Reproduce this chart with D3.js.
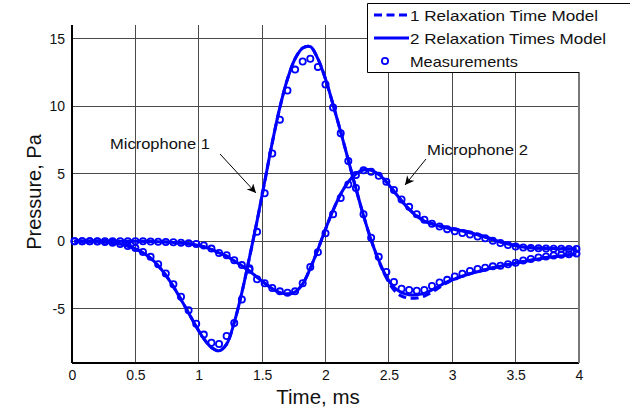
<!DOCTYPE html>
<html>
<head>
<meta charset="utf-8">
<script src="https://cdn.jsdelivr.net/npm/d3@7"></script>
<style>
  body { margin: 0; background: #fff; }
  svg { display: block; }
  text { font-family: "Liberation Sans", Arial, sans-serif; fill: #111; }
</style>
</head>
<body>
<svg id="chart" width="630" height="409"></svg>
<script>
// Sampling of the records (ms): first sample and spacing
const sampleStart = 0.02;
const sampleStep = 0.06;

// Microphone 1 pressure (Pa)
const mic1Measured = [
  0, 0, 0, -0.02, -0.05, -0.1, -0.2, -0.35, -0.5, -0.79,
  -1.15, -1.69, -2.38, -3.18, -4.1, -5.1, -6.1, -6.9, -7.5, -7.6,
  -7.0, -6.05, -4.3, -2.0, 0.7, 3.55, 6.5, 9.0, 11.15, 12.7,
  13.3, 13.5, 12.9, 11.6, 9.9, 8.0, 5.95, 3.95, 2.0, 0.27,
  -1.15, -2.26, -3.0, -3.5, -3.6, -3.65, -3.6, -3.3, -3.05, -2.85,
  -2.6, -2.4, -2.2, -2.05, -1.95, -1.85, -1.8, -1.7, -1.58, -1.42,
  -1.3, -1.2, -1.12, -1.05, -1.0, -0.95, -0.9
];
const mic1Model2 = [
  0, 0, 0, 0, -0.05, -0.1, -0.2, -0.35, -0.55, -0.85,
  -1.25, -1.8, -2.5, -3.35, -4.3, -5.3, -6.3, -7.2, -7.85, -8.1,
  -7.6, -6.0, -3.8, -1.2, 1.5, 4.4, 7.3, 9.9, 12.0, 13.5,
  14.3, 14.4, 13.5, 12.0, 10.1, 8.1, 6.0, 3.9, 1.9, 0.1,
  -1.4, -2.6, -3.4, -3.8, -3.95, -3.95, -3.85, -3.6, -3.3, -3.0,
  -2.78, -2.58, -2.4, -2.25, -2.1, -1.95, -1.85, -1.72, -1.6, -1.5,
  -1.4, -1.3, -1.2, -1.14, -1.08, -1.0, -0.95
];
const mic1Model1 = [
  0, 0, 0, 0, -0.05, -0.1, -0.2, -0.35, -0.55, -0.85,
  -1.25, -1.8, -2.5, -3.35, -4.3, -5.3, -6.3, -7.2, -7.85, -8.1,
  -7.6, -6.0, -3.8, -1.2, 1.5, 4.4, 7.3, 9.9, 12.0, 13.5,
  14.3, 14.4, 13.5, 12.0, 10.1, 8.1, 6.0, 3.9, 1.9, 0.1,
  -1.45, -2.7, -3.6, -4.05, -4.2, -4.2, -4.05, -3.75, -3.4, -3.05,
  -2.8, -2.58, -2.4, -2.25, -2.1, -1.95, -1.85, -1.72, -1.6, -1.5,
  -1.4, -1.3, -1.2, -1.14, -1.08, -1.0, -0.95
];

// Microphone 2 pressure (Pa)
const mic2Measured = [
  0, 0, 0, 0, 0, 0, 0, 0, 0, 0,
  -0.02, -0.03, -0.05, -0.07, -0.1, -0.15, -0.2, -0.3, -0.54, -0.86,
  -1.03, -1.4, -1.76, -2.1, -2.8, -3.1, -3.45, -3.7, -3.8, -3.7,
  -3.1, -1.9, -0.8, 0.6, 2.0, 3.2, 4.2, 4.9, 5.25, 5.15,
  4.85, 4.4, 3.8, 3.1, 2.55, 2.0, 1.6, 1.3, 1.1, 0.9,
  0.75, 0.62, 0.5, 0.35, 0.22, 0.05, -0.12, -0.27, -0.38, -0.46,
  -0.5, -0.52, -0.54, -0.55, -0.55, -0.56, -0.56
];
const mic2Model2 = [
  0, 0, 0, 0, 0, 0, 0, 0, 0, 0,
  -0.02, -0.03, -0.05, -0.08, -0.12, -0.18, -0.27, -0.4, -0.6, -0.85,
  -1.1, -1.45, -1.8, -2.2, -2.65, -3.1, -3.5, -3.8, -3.9, -3.75,
  -3.15, -2.0, -0.6, 0.9, 2.3, 3.5, 4.4, 5.0, 5.3, 5.25,
  4.95, 4.4, 3.7, 3.0, 2.35, 1.85, 1.5, 1.28, 1.12, 0.98,
  0.87, 0.76, 0.63, 0.48, 0.3, 0.12, -0.05, -0.2, -0.33, -0.42,
  -0.48, -0.51, -0.53, -0.54, -0.55, -0.55, -0.55
];
const mic2Model1 = [
  0, 0, 0, 0, 0, 0, 0, 0, 0, 0,
  -0.02, -0.03, -0.05, -0.08, -0.12, -0.18, -0.27, -0.4, -0.6, -0.85,
  -1.1, -1.45, -1.8, -2.2, -2.65, -3.1, -3.5, -3.8, -3.9, -3.75,
  -3.15, -2.0, -0.6, 0.9, 2.3, 3.5, 4.4, 5.0, 5.3, 5.25,
  4.95, 4.4, 3.7, 3.0, 2.38, 1.9, 1.55, 1.32, 1.16, 1.03,
  0.92, 0.8, 0.67, 0.52, 0.34, 0.15, -0.03, -0.18, -0.31, -0.41,
  -0.47, -0.5, -0.52, -0.53, -0.54, -0.55, -0.55
];

// Axis ticks
const xTicks = [0, 0.5, 1, 1.5, 2, 2.5, 3, 3.5, 4];
const xTickLabels = ["0", "0.5", "1", "1.5", "2", "2.5", "3", "3.5", "4"];
const yTicks = [-5, 0, 5, 10, 15];
const yTickLabels = ["-5", "0", "5", "10", "15"];

// Legend entries
const legendLabels = ["1 Relaxation Time Model", "2 Relaxation Times Model", "Measurements"];

const blue = "#0000ff";
const svg = d3.select("#chart");
const plotLeft = 72, plotRight = 579, plotTop = 25, plotBottom = 363;

const x = d3.scaleLinear().domain([0, 4]).range([plotLeft, plotRight]);
const y = d3.scaleLinear().domain([-9, 16]).range([plotBottom, plotTop]);

const times = d3.range(mic1Measured.length).map(i => sampleStart + i * sampleStep);

// Grid
const grid = svg.append("g").attr("shape-rendering", "crispEdges");
grid.selectAll("line.vx").data(xTicks.slice(1, -1)).join("line")
  .attr("x1", d => x(d)).attr("x2", d => x(d))
  .attr("y1", plotTop).attr("y2", plotBottom)
  .attr("stroke", "#4a4a4a").attr("stroke-width", 1);
grid.selectAll("line.hy").data(yTicks).join("line")
  .attr("x1", plotLeft).attr("x2", plotRight)
  .attr("y1", d => y(d)).attr("y2", d => y(d))
  .attr("stroke", "#4a4a4a").attr("stroke-width", 1);

// Axes
const xAxis = svg.append("g").attr("transform", `translate(0,${plotBottom})`)
  .call(d3.axisBottom(x).tickValues(xTicks).tickFormat((d, i) => xTickLabels[i]).tickSize(0).tickPadding(7));
xAxis.select(".domain").remove();
xAxis.selectAll("text").attr("font-size", 14).attr("font-family", "Liberation Sans, Arial, sans-serif").attr("fill", "#111");

const yAxis = svg.append("g").attr("transform", `translate(${plotLeft},0)`)
  .call(d3.axisLeft(y).tickValues(yTicks).tickFormat((d, i) => yTickLabels[i]).tickSize(0).tickPadding(7));
yAxis.select(".domain").remove();
yAxis.selectAll("text").attr("font-size", 14).attr("font-family", "Liberation Sans, Arial, sans-serif").attr("fill", "#111");

const frame = svg.append("g").attr("shape-rendering", "crispEdges");
frame.append("line").attr("x1", plotLeft).attr("x2", plotLeft).attr("y1", plotTop).attr("y2", plotBottom)
  .attr("stroke", "#000").attr("stroke-width", 1.3);
frame.append("line").attr("x1", plotLeft).attr("x2", plotRight).attr("y1", plotBottom).attr("y2", plotBottom)
  .attr("stroke", "#000").attr("stroke-width", 1.3);
frame.append("line").attr("x1", plotRight).attr("x2", plotRight).attr("y1", plotTop).attr("y2", plotBottom)
  .attr("stroke", "#777").attr("stroke-width", 1.3);

// Model curves and measurements
const line = d3.line().x((d, i) => x(times[i])).y(d => y(d)).curve(d3.curveCatmullRom.alpha(0.5));
const plot = svg.append("g");

[mic1Model1, mic2Model1].forEach(s => {
  plot.append("path").attr("d", line(s)).attr("fill", "none")
    .attr("stroke", blue).attr("stroke-width", 3).attr("stroke-dasharray", "8,4.5");
});
[mic1Model2, mic2Model2].forEach(s => {
  plot.append("path").attr("d", line(s)).attr("fill", "none")
    .attr("stroke", blue).attr("stroke-width", 3);
});
[mic1Measured, mic2Measured].forEach(s => {
  plot.append("g").selectAll("circle").data(s).join("circle")
    .attr("cx", (d, i) => x(times[i])).attr("cy", d => y(d)).attr("r", 3.1)
    .attr("fill", "none").attr("stroke", blue).attr("stroke-width", 1.8);
});

// Axis titles
svg.append("text").attr("x", 318).attr("y", 404).attr("text-anchor", "middle")
  .attr("font-size", 20.5).text("Time, ms");
svg.append("text").attr("transform", "translate(41,192) rotate(-90)").attr("text-anchor", "middle")
  .attr("font-size", 20).text("Pressure, Pa");

// Annotations
const defs = svg.append("defs");
defs.append("marker").attr("id", "head").attr("viewBox", "0 0 10 10")
  .attr("refX", 10).attr("refY", 5).attr("markerWidth", 9).attr("markerHeight", 9)
  .attr("markerUnits", "userSpaceOnUse").attr("orient", "auto")
  .append("path").attr("d", "M0,0 L10,5 L0,10 L3,5 Z").attr("fill", "#000");

svg.append("text").attr("x", 110).attr("y", 149).attr("font-size", 15)
  .attr("textLength", 100).attr("lengthAdjust", "spacingAndGlyphs").text("Microphone 1");
svg.append("line").attr("x1", 220).attr("y1", 154).attr("x2", 256).attr("y2", 193)
  .attr("stroke", "#000").attr("stroke-width", 1).attr("marker-end", "url(#head)");

svg.append("text").attr("x", 427).attr("y", 155).attr("font-size", 15)
  .attr("textLength", 101).attr("lengthAdjust", "spacingAndGlyphs").text("Microphone 2");
svg.append("line").attr("x1", 426).attr("y1", 159).attr("x2", 405).attr("y2", 185)
  .attr("stroke", "#000").attr("stroke-width", 1).attr("marker-end", "url(#head)");

// Legend
const lg = svg.append("g");
lg.append("rect").attr("x", 367).attr("y", 3).attr("width", 280).attr("height", 69).attr("fill", "#fff");
lg.append("path").attr("d", "M640,3.5 H367.5 V72.5 H579").attr("fill", "none")
  .attr("stroke", "#000").attr("stroke-width", 1);
const rowY = [15, 38, 61];
lg.append("line").attr("x1", 374).attr("x2", 409).attr("y1", rowY[0]).attr("y2", rowY[0])
  .attr("stroke", blue).attr("stroke-width", 3).attr("stroke-dasharray", "8,4.5");
lg.append("line").attr("x1", 374).attr("x2", 409).attr("y1", rowY[1]).attr("y2", rowY[1])
  .attr("stroke", blue).attr("stroke-width", 3);
lg.append("circle").attr("cx", 385).attr("cy", rowY[2]).attr("r", 3.1)
  .attr("fill", "none").attr("stroke", blue).attr("stroke-width", 1.8);
const legendWidths = [188, 196, 108];
lg.selectAll("text").data(legendLabels).join("text")
  .attr("x", 410).attr("y", (d, i) => rowY[i] + 5.5)
  .attr("font-size", 15).attr("textLength", (d, i) => legendWidths[i])
  .attr("lengthAdjust", "spacingAndGlyphs").text(d => d);
</script>
</body>
</html>
